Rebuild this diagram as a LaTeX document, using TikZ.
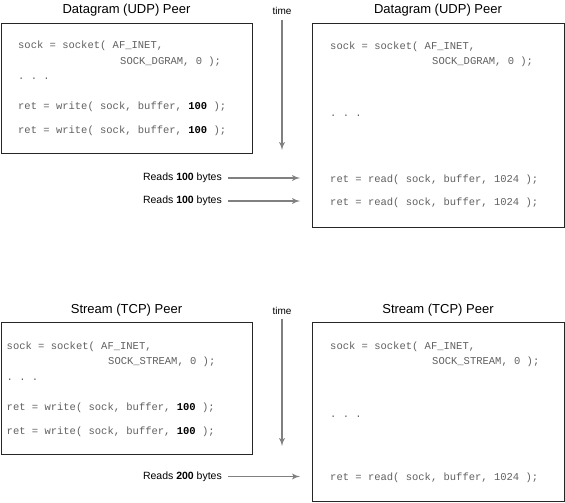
\documentclass[tikz,border=0pt]{standalone}
\usepackage{fontspec}
\setmainfont{Liberation Sans}
\setmonofont{Liberation Mono}
\usetikzlibrary{shapes,arrows}

\begin{document}
\begin{tikzpicture}[x=1pt,y=-1pt,
    peer_box/.style ={rectangle, draw=black!85, line width=0.9pt, fill=white,
      anchor=north west, inner sep=0pt},
    peer_title/.style ={inner sep=0pt, font=\fontsize{13}{15}\selectfont},
    code_line/.style ={anchor=base west, inner sep=0pt, text=black!62,
      font=\ttfamily\fontsize{10.5}{12}\selectfont},
    time_label/.style ={inner sep=0pt, font=\fontsize{10}{12}\selectfont},
    read_label/.style ={anchor=east, inner sep=0pt, font=\fontsize{10.5}{12}\selectfont},
    line/.style ={draw, line width=1.7pt, black!50, -latex', shorten >=0pt}]
    \useasboundingbox (0,0) rectangle (565,503);
    % datagram - boxes and titles
    \node [peer_box, minimum width=251pt, minimum height=130pt] (udp_write) at (1,23) {};
    \node [peer_box, minimum width=252pt, minimum height=204pt] (udp_read) at (312,23) {};
    \node [peer_title] (udp_wtitle) at (126.5,10) {Datagram (UDP) Peer};
    \node [peer_title] (udp_rtitle) at (438,10) {Datagram (UDP) Peer};
    % datagram - writer code
    \node [code_line] (uw1) at (18,49) {sock = socket( AF\_INET,};
    \node [code_line] (uw2) at (120,64) {SOCK\_DGRAM, 0 );};
    \node [code_line] (uw3) at (18,80) {. . .};
    \node [code_line] (uw4) at (18,110) {ret = write( sock, buffer, \textcolor{black}{\bfseries 100} );};
    \node [code_line] (uw5) at (18,133) {ret = write( sock, buffer, \textcolor{black}{\bfseries 100} );};
    % datagram - reader code
    \node [code_line] (ur1) at (330,50) {sock = socket( AF\_INET,};
    \node [code_line] (ur2) at (432,65) {SOCK\_DGRAM, 0 );};
    \node [code_line] (ur3) at (330,116) {. . .};
    \node [code_line] (ur4) at (330,182.5) {ret = read( sock, buffer, 1024 );};
    \node [code_line] (ur5) at (330,205.5) {ret = read( sock, buffer, 1024 );};
    % datagram - time and reads
    \node [time_label] (udp_time) at (282,11) {time};
    \coordinate (udp_tend) at (282,150);
    \node [read_label] (udp_reads1) at (222,178) {Reads \textbf{100} bytes};
    \node [read_label] (udp_reads2) at (222,201) {Reads \textbf{100} bytes};

    % stream - boxes and titles
    \node [peer_box, minimum width=251pt, minimum height=132pt] (tcp_write) at (1,322) {};
    \node [peer_box, minimum width=252pt, minimum height=179pt] (tcp_read) at (312,322) {};
    \node [peer_title] (tcp_wtitle) at (126.5,310) {Stream (TCP) Peer};
    \node [peer_title] (tcp_rtitle) at (438,310) {Stream (TCP) Peer};
    % stream - writer code
    \node [code_line] (tw1) at (6.5,349) {sock = socket( AF\_INET,};
    \node [code_line] (tw2) at (108,364) {SOCK\_STREAM, 0 );};
    \node [code_line] (tw3) at (6.5,380) {. . .};
    \node [code_line] (tw4) at (6.5,410) {ret = write( sock, buffer, \textcolor{black}{\bfseries 100} );};
    \node [code_line] (tw5) at (6.5,434) {ret = write( sock, buffer, \textcolor{black}{\bfseries 100} );};
    % stream - reader code
    \node [code_line] (tr1) at (330,349) {sock = socket( AF\_INET,};
    \node [code_line] (tr2) at (432,364) {SOCK\_STREAM, 0 );};
    \node [code_line] (tr3) at (330,417) {. . .};
    \node [code_line] (tr4) at (330,480) {ret = read( sock, buffer, 1024 );};
    % stream - time and reads
    \node [time_label] (tcp_time) at (282,310.5) {time};
    \coordinate (tcp_tend) at (282,446);
    \node [read_label] (tcp_reads) at (222,476.5) {Reads \textbf{200} bytes};

    % connecting nodes with paths
    \begin{scope}[every path/.style=line]
     \path [shorten <=5pt] (udp_time.south) -- (udp_tend);
     \path [shorten <=5pt] (tcp_time.south) -- (tcp_tend);
     \path [shorten <=6pt, shorten >=12pt] (udp_reads1.east) -- (udp_reads1.east -| udp_read.west);
     \path [shorten <=6pt, shorten >=12pt] (udp_reads2.east) -- (udp_reads2.east -| udp_read.west);
     \path [shorten <=6pt, shorten >=12pt] (tcp_reads.east) -- (tcp_reads.east -| tcp_read.west);
    \end{scope}
\end{tikzpicture}
\end{document}
